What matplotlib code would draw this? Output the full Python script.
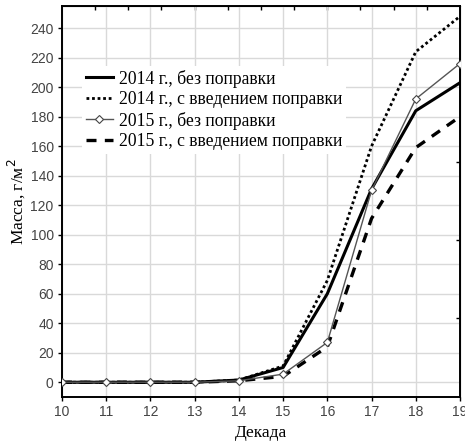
import matplotlib
matplotlib.use("Agg")
import matplotlib.pyplot as plt
import numpy as np

decades = [10, 11, 12, 13, 14, 15, 16, 17, 18, 19]
y2014_raw = [0, 0, 0, 0, 1.5, 10, 60, 131, 184, 203]
y2014_corr = [0, 0, 0, 0, 1.5, 11, 69, 160, 224, 248]
y2015_raw = [0, 0, 0, 0, 1, 5.5, 27, 130, 192, 216]
y2015_corr = [0, 0, 0, 0, 1, 4, 24, 111, 159, 180]
labels = ["2014 г., без поправки", "2014 г., с введением поправки",
          "2015 г., без поправки", "2015 г., с введением поправки"]
yticks = list(range(0, 241, 20))

serif = ["Liberation Serif", "DejaVu Serif"]

fig = plt.figure(figsize=(4.65, 4.46), dpi=100)
ax = fig.add_axes([62/465, 49/446, 398/465, 391/446])

ax.plot(decades, y2014_raw, color="black", lw=2.2, label=labels[0], zorder=4)
ax.plot(decades, y2014_corr, color="black", lw=2.0, linestyle=(0, (1, 1)), label=labels[1], zorder=3)
ax.plot(decades, y2015_raw, color="#555555", lw=1.0, marker="D", markersize=4,
        markerfacecolor="white", markeredgecolor="#444444", markeredgewidth=0.8,
        label=labels[2], zorder=5)
ax.plot(decades, y2015_corr, color="black", lw=2.4, linestyle=(0, (3, 2.5)), label=labels[3], zorder=2)

ax.set_xlim(10, 19)
ax.set_ylim(-10, 255)
ax.set_xticks(decades)
ax.set_yticks(yticks)
ax.grid(True, color="#d9d9d9", lw=1.0, zorder=0)
ax.set_axisbelow(True)
for s in ax.spines.values():
    s.set_linewidth(1.4)
    s.set_color("black")
ax.tick_params(axis="both", direction="out", length=3, width=1, labelsize=10,
               labelcolor="#444444", pad=3)
for lab in ax.get_xticklabels() + ax.get_yticklabels():
    lab.set_family(["Liberation Sans", "DejaVu Sans"])

# top/right inner ticks
sec_x = ax.secondary_xaxis("top")
sec_x.set_xticks(list(np.arange(10.75, 19, 0.75)))
sec_x.tick_params(direction="in", length=3, width=1, labeltop=False)
sec_x.set_xticklabels([])
sec_y = ax.secondary_yaxis("right")
sec_y.set_yticks([43.4, 96.3, 149.2, 202.1])
sec_y.tick_params(direction="in", length=3, width=1)
sec_y.set_yticklabels([])

ax.set_xlabel("Декада", fontsize=12.5, family=serif, labelpad=4)
ax.set_ylabel("Масса, г/м$^2$", fontsize=12.5, family=serif, labelpad=2)

leg = ax.legend(loc="upper left", bbox_to_anchor=(20/398, 331/391), frameon=True,
                prop={"family": serif, "size": 12.7}, handlelength=1.55,
                labelspacing=0.2, handletextpad=0.35, borderpad=0.2, borderaxespad=0)
leg.get_frame().set_edgecolor("none")
leg.get_frame().set_facecolor("white")
leg.get_frame().set_alpha(1)

fig.savefig("out.png", dpi=100)
